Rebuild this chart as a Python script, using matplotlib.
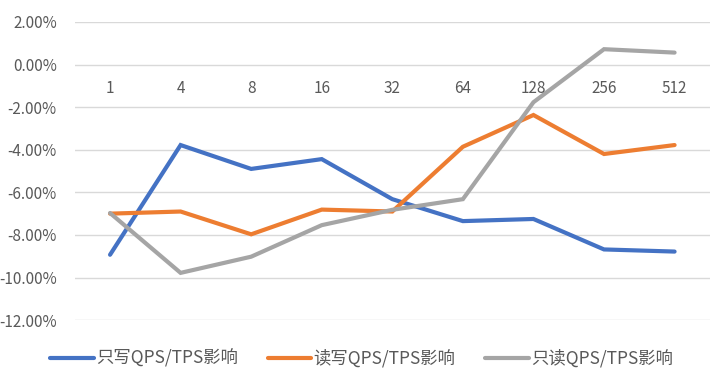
import matplotlib
matplotlib.use("Agg")
import matplotlib.pyplot as plt
from matplotlib.ticker import FuncFormatter

plt.rcParams['font.family'] = ['Noto Sans CJK SC', 'DejaVu Sans']

categories = ["1", "4", "8", "16", "32", "64", "128", "256", "512"]
write_only = [-8.93, -3.78, -4.90, -4.44, -6.32, -7.35, -7.25, -8.68, -8.78]
read_write = [-7.00, -6.90, -7.97, -6.81, -6.90, -3.86, -2.37, -4.20, -3.78]
read_only = [-6.97, -9.78, -9.02, -7.54, -6.82, -6.32, -1.77, 0.72, 0.56]
series_names = ["只写QPS/TPS影响", "读写QPS/TPS影响", "只读QPS/TPS影响"]
colors = ["#4472C4", "#ED7D31", "#A5A5A5"]
yticks = [2, 0, -2, -4, -6, -8, -10, -12]

fig = plt.figure(figsize=(7.12, 3.78), dpi=100)
ax = fig.add_axes([0.105, 0.153, 0.892, 0.789])

x = list(range(len(categories)))
for vals, name, c in zip([write_only, read_write, read_only], series_names, colors):
    ax.plot(x, vals, color=c, lw=3.0, label=name, solid_capstyle='round',
            solid_joinstyle='miter', zorder=3)

ax.set_ylim(-12, 2)
ax.set_xlim(-0.5, len(categories) - 0.5)
ax.set_yticks(yticks)
ax.yaxis.set_major_formatter(FuncFormatter(lambda v, p: f"{v:.2f}%"))
ax.grid(axis='y', color='#D9D9D9', lw=1.0, zorder=0)
ax.tick_params(axis='y', length=0, pad=13, labelsize=11, labelcolor='#595959')
ax.set_xticks([])
for s in ax.spines.values():
    s.set_visible(False)

for i, lbl in enumerate(categories):
    ax.annotate(lbl, (i, 0), xytext=(0, -17.5), textcoords='offset points',
                ha='center', va='center', fontsize=11, color='#595959')

fig.legend(loc='center', bbox_to_anchor=(0.508, 0.052), ncol=3, frameon=False,
           fontsize=12.5, handlelength=2.5, columnspacing=1.7, handletextpad=0.15,
           labelcolor='#595959')

fig.savefig("out.png", dpi=100)
